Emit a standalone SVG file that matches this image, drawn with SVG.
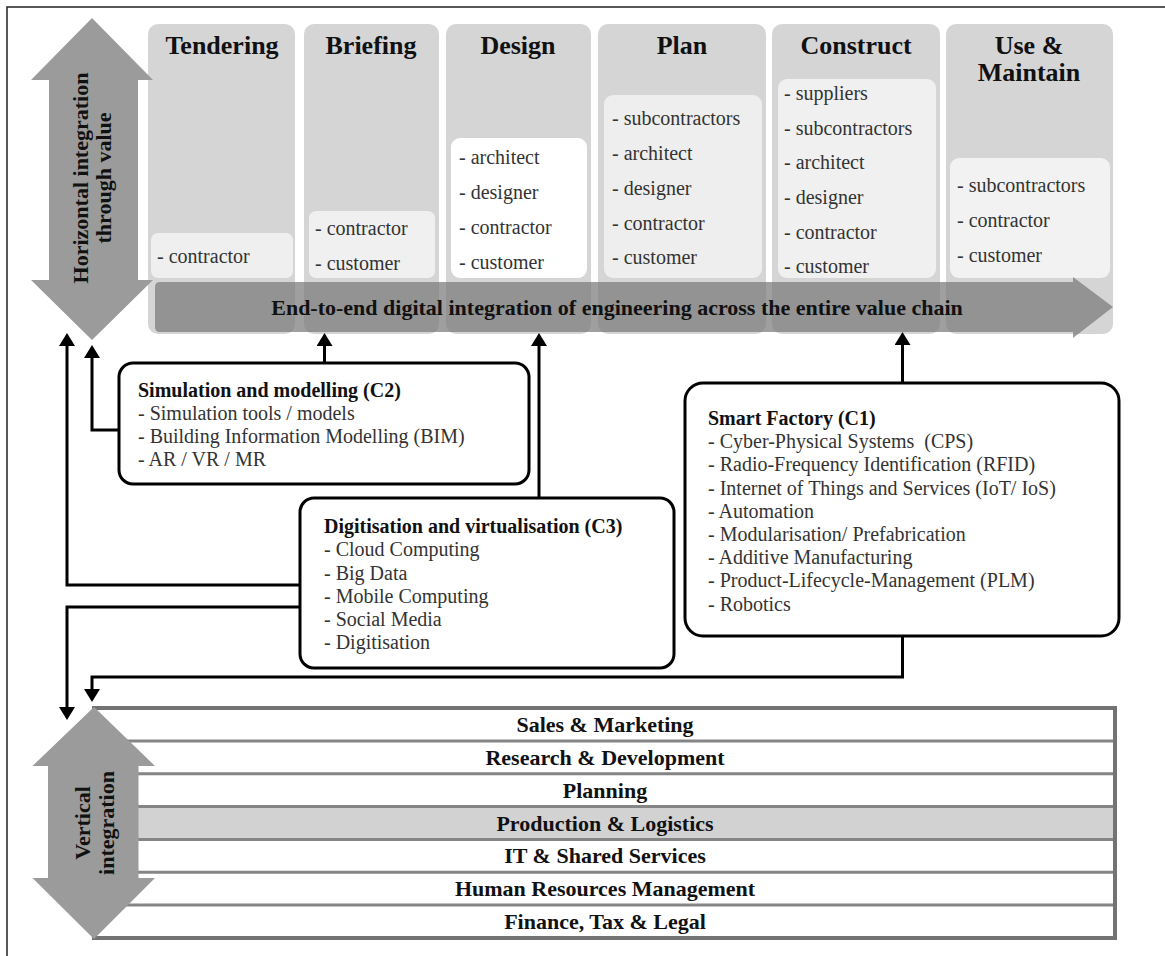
<svg xmlns="http://www.w3.org/2000/svg" width="1165" height="956" viewBox="0 0 1165 956">
<style>
.hdr{font-family:"Liberation Serif",serif;font-weight:bold;font-size:26px;fill:#111;text-anchor:middle}
.li{font-family:"Liberation Serif",serif;font-size:20px;fill:#333}
.bt{font-family:"Liberation Serif",serif;font-weight:bold;font-size:20px;fill:#111}
.bi{font-family:"Liberation Serif",serif;font-size:20px;fill:#333}
.row{font-family:"Liberation Serif",serif;font-weight:bold;font-size:22px;fill:#111;text-anchor:middle}
.rot{font-family:"Liberation Serif",serif;font-weight:bold;font-size:22px;fill:#111;text-anchor:middle}
.col{fill:#d5d5d5}
.box{fill:#fff;stroke:#000;stroke-width:3}
.con{fill:none;stroke:#000;stroke-width:3}
.garrow{fill:#9b9b9b}
</style>
<defs>
<marker id="ah" viewBox="0 0 13 16" refX="10" refY="8" markerWidth="13" markerHeight="16" markerUnits="userSpaceOnUse" orient="auto">
<path d="M0,0 L13,8 L0,16 z" fill="#000"/>
</marker>
</defs>
<rect x="0" y="0" width="1165" height="956" fill="#fff"/>
<path d="M7,956 V7 H1165" fill="none" stroke="#222" stroke-width="1.5"/>

<g id="stage-tendering">
<rect class="col" x="148" y="24" width="147" height="310" rx="10"/>
<rect x="151" y="233" width="142" height="45" rx="7" fill="#efefef"/>
<text class="hdr" x="222" y="54">Tendering</text>
<text class="li" x="157" y="263">- contractor</text>
</g>
<g id="stage-briefing">
<rect class="col" x="304" y="24" width="135" height="310" rx="10"/>
<rect x="309" y="211" width="126" height="67" rx="7" fill="#f0f0f0"/>
<text class="hdr" x="371" y="54">Briefing</text>
<text class="li" x="315" y="235">- contractor</text>
<text class="li" x="315" y="270">- customer</text>
</g>
<g id="stage-design">
<rect class="col" x="446" y="24" width="145" height="310" rx="10"/>
<rect x="451" y="138" width="136" height="140" rx="9" fill="#ffffff"/>
<text class="hdr" x="518" y="54">Design</text>
<text class="li" x="459" y="164">- architect</text>
<text class="li" x="459" y="199">- designer</text>
<text class="li" x="459" y="234">- contractor</text>
<text class="li" x="459" y="269">- customer</text>
</g>
<g id="stage-plan">
<rect class="col" x="598" y="24" width="168" height="310" rx="10"/>
<rect x="604" y="95" width="158" height="183" rx="9" fill="#eeeeee"/>
<text class="hdr" x="682" y="54">Plan</text>
<text class="li" x="612" y="125">- subcontractors</text>
<text class="li" x="612" y="160">- architect</text>
<text class="li" x="612" y="195">- designer</text>
<text class="li" x="612" y="230">- contractor</text>
<text class="li" x="612" y="264">- customer</text>
</g>
<g id="stage-construct">
<rect class="col" x="772" y="24" width="168" height="310" rx="10"/>
<rect x="778" y="79" width="158" height="199" rx="9" fill="#f0f0f0"/>
<text class="hdr" x="856" y="54">Construct</text>
<text class="li" x="784" y="100">- suppliers</text>
<text class="li" x="784" y="135">- subcontractors</text>
<text class="li" x="784" y="169">- architect</text>
<text class="li" x="784" y="204">- designer</text>
<text class="li" x="784" y="239">- contractor</text>
<text class="li" x="784" y="273">- customer</text>
</g>
<g id="stage-use-maintain">
<rect class="col" x="946" y="24" width="167" height="310" rx="10"/>
<rect x="950" y="158" width="160" height="120" rx="9" fill="#f2f2f2"/>
<text class="hdr" x="1029" y="54">Use &amp;</text>
<text class="hdr" x="1029" y="81">Maintain</text>
<text class="li" x="957" y="192">- subcontractors</text>
<text class="li" x="957" y="227">- contractor</text>
<text class="li" x="957" y="262">- customer</text>
</g>

<g id="value-chain-arrow">
<path d="M160,282 H1073 V277 L1113,307 L1073,338 V332 H160 Q155,332 155,327 V287 Q155,282 160,282 Z" fill="#7a7a7a" fill-opacity="0.72"/>
<text x="617" y="315" font-family="Liberation Serif, serif" font-weight="bold" font-size="22" fill="#111" text-anchor="middle">End-to-end digital integration of engineering across the entire value chain</text>
</g>

<g id="horizontal-integration">
<polygon class="garrow" points="92,18 153,80 138,80 138,280 153,280 92,340 31,280 49,280 49,80 31,80"/>
<text class="rot" transform="translate(88,178) rotate(-90)">Horizontal integration</text>
<text class="rot" transform="translate(111,178) rotate(-90)">through value</text>
</g>

<g id="connectors">
<path class="con" d="M300,585 H67 V336" marker-end="url(#ah)"/>
<path class="con" d="M119,430 H92 V348" marker-end="url(#ah)"/>
<path class="con" d="M324.5,363 V336" marker-end="url(#ah)"/>
<path class="con" d="M539,498 V336" marker-end="url(#ah)"/>
<path class="con" d="M902.5,383 V335" marker-end="url(#ah)"/>
<path class="con" d="M300,607 H67 V717" marker-end="url(#ah)"/>
<path class="con" d="M902.5,637 V677 H92 V699" marker-end="url(#ah)"/>
</g>

<g id="c2-simulation">
<rect class="box" x="119" y="363" width="410" height="121" rx="14"/>
<text class="bt" x="138" y="397">Simulation and modelling (C2)</text>
<text class="bi" x="138" y="420">- Simulation tools / models</text>
<text class="bi" x="138" y="443">- Building Information Modelling (BIM)</text>
<text class="bi" x="138" y="466">- AR / VR / MR</text>
</g>
<g id="c3-digitisation">
<rect class="box" x="300" y="498" width="374" height="170" rx="14"/>
<text class="bt" x="324" y="533">Digitisation and virtualisation (C3)</text>
<text class="bi" x="324" y="556">- Cloud Computing</text>
<text class="bi" x="324" y="579.5">- Big Data</text>
<text class="bi" x="324" y="603">- Mobile Computing</text>
<text class="bi" x="324" y="626">- Social Media</text>
<text class="bi" x="324" y="649">- Digitisation</text>
</g>
<g id="c1-smart-factory">
<rect class="box" x="685" y="383" width="434" height="253" rx="18"/>
<text class="bt" x="708" y="425">Smart Factory (C1)</text>
<text class="bi" x="708" y="448" style="white-space:pre">- Cyber-Physical Systems  (CPS)</text>
<text class="bi" x="708" y="471">- Radio-Frequency Identification (RFID)</text>
<text class="bi" x="708" y="495">- Internet of Things and Services (IoT/ IoS)</text>
<text class="bi" x="708" y="518">- Automation</text>
<text class="bi" x="708" y="541">- Modularisation/ Prefabrication</text>
<text class="bi" x="708" y="564">- Additive Manufacturing</text>
<text class="bi" x="708" y="587">- Product-Lifecycle-Management (PLM)</text>
<text class="bi" x="708" y="611">- Robotics</text>
</g>

<g id="functions-table">
<rect x="94" y="708" width="1021" height="230" fill="#fff"/>
<rect x="94" y="806.6" width="1021" height="32.8" fill="#d2d2d2"/>
<g stroke="#858585" stroke-width="3">
<line x1="94" y1="740.9" x2="1115" y2="740.9"/>
<line x1="94" y1="773.7" x2="1115" y2="773.7"/>
<line x1="94" y1="806.6" x2="1115" y2="806.6"/>
<line x1="94" y1="839.4" x2="1115" y2="839.4"/>
<line x1="94" y1="872.3" x2="1115" y2="872.3"/>
<line x1="94" y1="905.1" x2="1115" y2="905.1"/>
</g>
<rect x="94" y="708" width="1021" height="230" fill="none" stroke="#737373" stroke-width="4"/>
<text class="row" x="605" y="732">Sales &amp; Marketing</text>
<text class="row" x="605" y="765">Research &amp; Development</text>
<text class="row" x="605" y="798">Planning</text>
<text class="row" x="605" y="830.5">Production &amp; Logistics</text>
<text class="row" x="605" y="863">IT &amp; Shared Services</text>
<text class="row" x="605" y="896">Human Resources Management</text>
<text class="row" x="605" y="929">Finance, Tax &amp; Legal</text>
</g>

<g id="vertical-integration">
<polygon class="garrow" points="94,707 155,766 138.5,766 138.5,878 155,878 94,939 32.5,878 48,878 48,766 32.5,766"/>
<text class="rot" transform="translate(90,823) rotate(-90)">Vertical</text>
<text class="rot" transform="translate(114,823) rotate(-90)">integration</text>
</g>
</svg>
